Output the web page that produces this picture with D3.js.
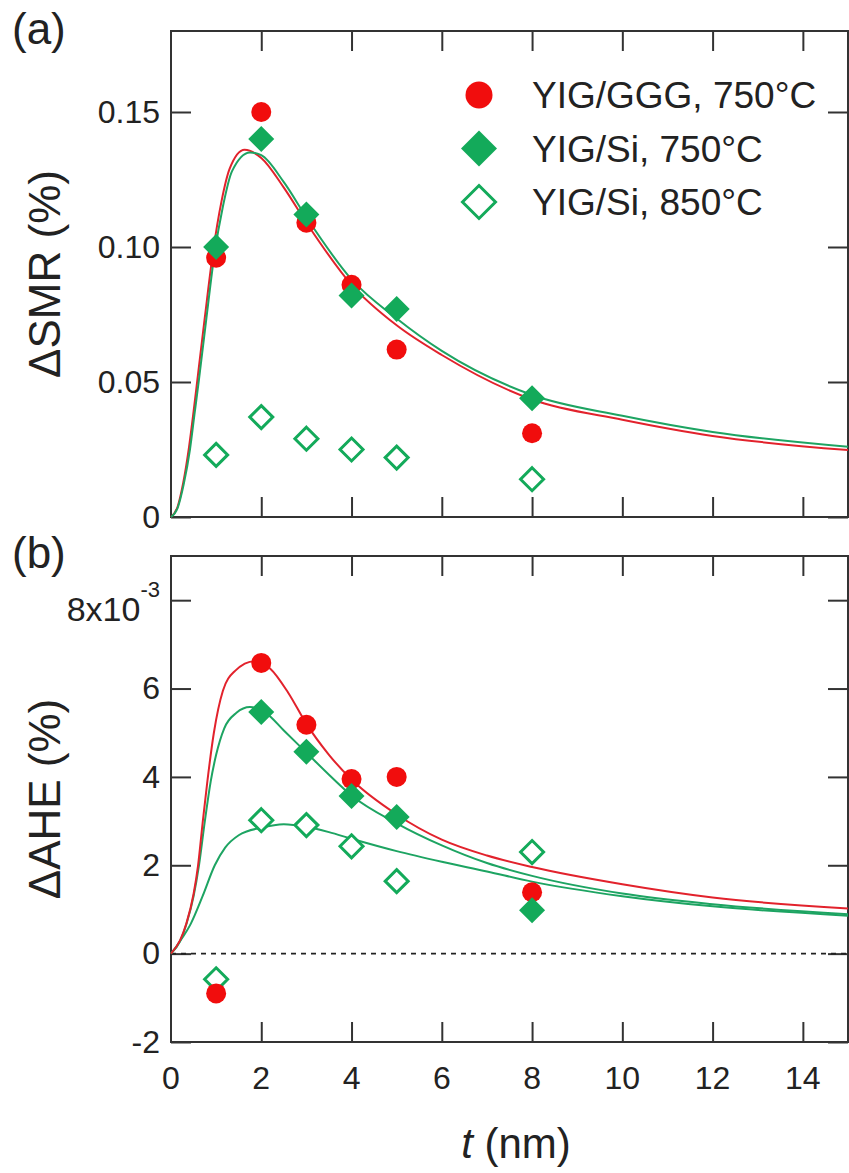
<!DOCTYPE html>
<html>
<head>
<meta charset="utf-8">
<script src="https://cdn.jsdelivr.net/npm/d3@7"></script>
<style>
  body { margin: 0; background: #fff; }
  svg { display: block; font-family: "Liberation Sans", Arial, sans-serif; }
</style>
</head>
<body>
<svg width="849" height="1173"></svg>
<script>
// sample thicknesses (nm)
const sampleT = [1, 2, 3, 4, 5, 8];

// panel (a): SMR ratio (%)
const smrGGG750 = [0.096, 0.150, 0.109, 0.086, 0.062, 0.031];
const smrSi750 = [0.100, 0.140, 0.112, 0.082, 0.077, 0.044];
const smrSi850 = [0.023, 0.037, 0.029, 0.025, 0.022, 0.014];

// panel (b): AHE ratio (x10^-3 %)
const aheGGG750 = [-0.9, 6.58, 5.18, 3.95, 4.0, 1.39];
const aheSi750 = [null, 5.47, 4.57, 3.57, 3.09, 0.98];
const aheSi850 = [-0.58, 3.02, 2.91, 2.43, 1.64, 2.30];

// fitted curves
const fitSmrGGG_t = [0, 0.15, 0.27, 0.4, 0.5, 0.6, 0.75, 0.93, 1.12, 1.3, 1.63, 2.0, 2.5, 3.0, 4.0, 5.0, 6.0, 8.0, 10, 12, 15];
const fitSmrGGG_v = [0, 0.004, 0.0126, 0.026, 0.039, 0.053, 0.074, 0.098, 0.117, 0.129, 0.136, 0.133, 0.122, 0.109, 0.086, 0.071, 0.060, 0.0435, 0.036, 0.030, 0.0248];
const fitSmrSi_t = [0, 0.15, 0.28, 0.42, 0.52, 0.62, 0.78, 0.96, 1.15, 1.35, 1.75, 2.0, 2.5, 3.0, 4.0, 5.0, 6.0, 8.0, 10, 12, 15];
const fitSmrSi_v = [0, 0.0035, 0.012, 0.025, 0.038, 0.051, 0.073, 0.097, 0.115, 0.128, 0.135, 0.134, 0.124, 0.111, 0.088, 0.0735, 0.0615, 0.0452, 0.0375, 0.0315, 0.026];

const fitAheGGG_t = [0, 0.2, 0.34, 0.5, 0.6, 0.7, 0.8, 0.95, 1.15, 1.42, 1.85, 2.2, 2.6, 3.0, 3.5, 4.0, 5.0, 6.0, 7.0, 8.0, 10, 12, 15];
const fitAheGGG_v = [0, 0.3, 0.68, 1.35, 2.0, 2.95, 3.85, 5.0, 5.95, 6.4, 6.62, 6.45, 5.9, 5.2, 4.5, 3.94, 3.15, 2.58, 2.22, 1.96, 1.57, 1.27, 1.02];
const fitAheSi750_t = [0, 0.2, 0.35, 0.5, 0.62, 0.75, 0.88, 1.0, 1.18, 1.45, 1.75, 2.1, 2.5, 3.0, 3.5, 4.0, 5.0, 6.0, 7.0, 8.0, 10, 12, 15];
const fitAheSi750_v = [0, 0.28, 0.7, 1.3, 2.0, 3.0, 3.9, 4.5, 5.1, 5.45, 5.58, 5.45, 5.05, 4.55, 4.05, 3.58, 2.95, 2.45, 2.05, 1.76, 1.36, 1.12, 0.89];
const fitAheSi850_t = [0, 0.2, 0.44, 0.7, 0.97, 1.2, 1.5, 2.0, 2.5, 3.0, 3.5, 4.0, 5.0, 6.0, 7.0, 8.0, 10, 12, 15];
const fitAheSi850_v = [0, 0.28, 0.68, 1.3, 2.0, 2.4, 2.68, 2.85, 2.93, 2.87, 2.75, 2.6, 2.32, 2.08, 1.86, 1.63, 1.3, 1.07, 0.86];

const xTicks = [0, 2, 4, 6, 8, 10, 12, 14];
const smrTicks = [0, 0.05, 0.10, 0.15];
const aheTicks = [-2, 0, 2, 4, 6, 8];
const legendLabels = ["YIG/GGG, 750°C", "YIG/Si, 750°C", "YIG/Si, 850°C"];

const RED = "#f10d0d", GREEN = "#13aa5a";
const RED_LINE = "#e2222c", GREEN_LINE = "#1da462";
const AXIS = "#333";

const svg = d3.select("svg");
const x = d3.scaleLinear().domain([0, 15]).range([171, 848]);
const ya = d3.scaleLinear().domain([0, 0.18]).range([517, 31]);
const yb = d3.scaleLinear().domain([-2, 9]).range([1042, 556]);

function zip(t, v) { return t.map((d, i) => [d, v[i]]); }

function frame(y, yTicks, fmt) {
    const [y0, y1] = y.range();
    const g = svg.append("g");
    // ticks pointing inward on all four sides
    g.append("g").attr("transform", `translate(0,${y0})`)
        .call(d3.axisBottom(x).tickValues(xTicks.slice(1)).tickSizeInner(-20).tickSizeOuter(0).tickFormat(""));
    g.append("g").attr("transform", `translate(0,${y1})`)
        .call(d3.axisTop(x).tickValues(xTicks.slice(1)).tickSizeInner(-20).tickSizeOuter(0).tickFormat(""));
    g.append("g").attr("transform", `translate(${x.range()[1]},0)`)
        .call(d3.axisRight(y).tickValues(yTicks).tickSizeInner(-20).tickSizeOuter(0).tickFormat(""));
    const left = g.append("g").attr("transform", `translate(${x.range()[0]},0)`)
        .call(d3.axisLeft(y).tickValues(yTicks).tickSizeInner(-20).tickSizeOuter(0).tickPadding(11).tickFormat(fmt));
    g.selectAll(".domain").remove();
    g.selectAll(".tick line").attr("stroke", AXIS).attr("stroke-width", 2);
    left.selectAll("text").attr("font-size", 32).attr("fill", "#222").attr("font-family", null);
    g.append("rect")
        .attr("x", x.range()[0]).attr("y", y1)
        .attr("width", x.range()[1] - x.range()[0]).attr("height", y0 - y1)
        .attr("fill", "none").attr("stroke", AXIS).attr("stroke-width", 2);
    return left;
}

function curve(y, pts, color) {
    svg.append("path")
        .datum(pts)
        .attr("fill", "none")
        .attr("stroke", color)
        .attr("stroke-width", 2)
        .attr("d", d3.line().x(d => x(d[0])).y(d => y(d[1])).curve(d3.curveMonotoneX));
}

function diamondPath(r) {
    return `M0,${-r}L${r},0L0,${r}L${-r},0Z`;
}

function drawMarker(sel, kind, big) {
    if (kind === "circle") {
        sel.append("circle").attr("r", big ? 13.5 : 10).attr("fill", RED);
    } else if (kind === "filled") {
        sel.append("path").attr("d", diamondPath(big ? 18 : 13)).attr("fill", GREEN);
    } else {
        sel.append("path").attr("d", diamondPath(big ? 16.5 : 11.5))
            .attr("fill", "#fff").attr("stroke", GREEN).attr("stroke-width", 3);
    }
}

function points(y, vals, kind) {
    const data = sampleT.map((t, i) => [t, vals[i]]).filter(d => d[1] !== null);
    const sel = svg.append("g").selectAll("g").data(data).join("g")
        .attr("transform", d => `translate(${x(d[0])},${y(d[1])})`);
    drawMarker(sel, kind, false);
}

// ---- panel (a)
frame(ya, smrTicks, d => d === 0 ? "0" : d3.format(".2f")(d));
curve(ya, zip(fitSmrGGG_t, fitSmrGGG_v), RED_LINE);
curve(ya, zip(fitSmrSi_t, fitSmrSi_v), GREEN_LINE);
points(ya, smrSi850, "open");
points(ya, smrGGG750, "circle");
points(ya, smrSi750, "filled");

// legend
const kinds = ["circle", "filled", "open"];
const leg = svg.append("g").selectAll("g").data(legendLabels).join("g")
    .attr("transform", (d, i) => `translate(479,${95 + i * 53.5})`);
leg.each(function (d, i) { drawMarker(d3.select(this), kinds[i], true); });
leg.append("text").attr("x", 53).attr("y", 13)
    .attr("font-size", 37).attr("fill", "#222").text(d => d);

// ---- panel (b)
const leftB = frame(yb, aheTicks, d => String(d));
leftB.selectAll(".tick").filter(d => d === 8).select("text")
    .text(null)
    .attr("dy", "0.64em")
    .call(t => {
        t.append("tspan").attr("font-size", 34).text("8x10");
        t.append("tspan").attr("dy", -24).attr("font-size", 22).text("-3");
    });

svg.append("line")
    .attr("x1", x(0)).attr("x2", x(15))
    .attr("y1", yb(0)).attr("y2", yb(0))
    .attr("stroke", "#222").attr("stroke-width", 1.6)
    .attr("stroke-dasharray", "5,5");

curve(yb, zip(fitAheSi850_t, fitAheSi850_v), GREEN_LINE);
curve(yb, zip(fitAheSi750_t, fitAheSi750_v), GREEN_LINE);
curve(yb, zip(fitAheGGG_t, fitAheGGG_v), RED_LINE);
points(yb, aheSi850, "open");
points(yb, aheGGG750, "circle");
points(yb, aheSi750, "filled");

// x tick labels under panel (b)
svg.append("g").selectAll("text").data(xTicks).join("text")
    .attr("x", d => x(d)).attr("y", 1089)
    .attr("text-anchor", "middle").attr("font-size", 32).attr("fill", "#222")
    .text(d => d);

// axis titles
const xt = svg.append("text").attr("x", 516).attr("y", 1158)
    .attr("text-anchor", "middle").attr("font-size", 42).attr("fill", "#222");
xt.append("tspan").attr("font-style", "italic").text("t");
xt.append("tspan").text(" (nm)");

svg.append("text")
    .attr("transform", `translate(60,274) rotate(-90)`)
    .attr("text-anchor", "middle").attr("font-size", 44).attr("fill", "#222")
    .text("ΔSMR (%)");
svg.append("text")
    .attr("transform", `translate(60,799) rotate(-90)`)
    .attr("text-anchor", "middle").attr("font-size", 44).attr("fill", "#222")
    .text("ΔAHE (%)");

// panel letters
svg.append("text").attr("x", 12).attr("y", 44).attr("font-size", 44).attr("fill", "#222").text("(a)");
svg.append("text").attr("x", 12).attr("y", 568).attr("font-size", 44).attr("fill", "#222").text("(b)");
</script>
</body>
</html>
